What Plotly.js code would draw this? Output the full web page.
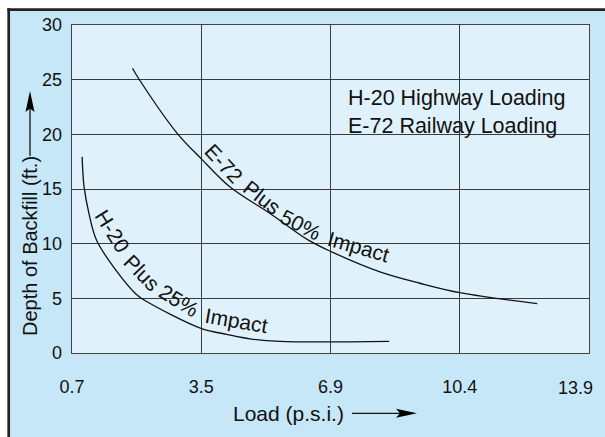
<!DOCTYPE html>
<html>
<head>
<meta charset="utf-8">
<script src="https://cdn.plot.ly/plotly-3.0.1.min.js"></script>
<style>html,body{margin:0;padding:0;background:#fff;}#chart{width:605px;height:437px;}</style>
</head>
<body>
<div id="chart"></div>
<script>
// ---- data ----
var loadTicks = [0.7, 3.5, 6.9, 10.4, 13.9];          // x tick labels (equally spaced on the chart)
var depthTicks = [0, 5, 10, 15, 20, 25, 30];

// H-20 Plus 25% Impact
var h20Load  = [0.92, 0.96, 1.07, 1.23, 1.65, 2.09, 2.28, 3.51, 4.17, 4.78, 5.57, 8.49];
var h20Depth = [17.94, 15.26, 12.70, 10.33, 7.57, 5.37, 4.80, 2.23, 1.71, 1.30, 1.07, 1.07];

// E-72 Plus 50% Impact
var e72Load  = [2.01, 2.15, 2.97, 3.51, 4.25, 5.31, 6.32, 6.93, 8.24, 9.32, 10.44, 12.5];
var e72Depth = [26.04, 25.06, 20.14, 17.73, 15.20, 12.76, 10.32, 9.25, 7.42, 6.38, 5.49, 4.52];

// ---- helpers ----
// load (p.s.i.) -> position on the equally spaced tick axis
function loadPos(v) {
  for (var i = 0; i < loadTicks.length - 1; i++) {
    if (v <= loadTicks[i + 1] || i === loadTicks.length - 2) {
      return i + (v - loadTicks[i]) / (loadTicks[i + 1] - loadTicks[i]);
    }
  }
}
var ML = 72, MR = 16, MT = 25, MB = 84, WW = 605, HH = 437;
var PW = WW - ML - MR, PH = HH - MT - MB;
function px(x) { return (x - ML) / PW; }
function py(y) { return (HH - MB - y) / PH; }

var FONT = 'Liberation Sans, Arial, Helvetica, sans-serif';
var INK = '#111111';

var traces = [
  { x: h20Load.map(loadPos), y: h20Depth, mode: 'lines', name: 'H-20 Plus 25% Impact',
    line: { color: '#111', width: 1.3, shape: 'spline', smoothing: 1 }, hoverinfo: 'skip' },
  { x: e72Load.map(loadPos), y: e72Depth, mode: 'lines', name: 'E-72 Plus 50% Impact',
    line: { color: '#111', width: 1.3, shape: 'spline', smoothing: 1 }, hoverinfo: 'skip' },
  // carrier for the second x axis (holds the last tick label only)
  { x: [null], y: [null], xaxis: 'x2', yaxis: 'y', mode: 'lines', hoverinfo: 'skip', showlegend: false }
];

function word(t, x, y, ang) {
  return { text: t, xref: 'paper', yref: 'paper', x: px(x), y: py(y), showarrow: false,
           textangle: ang, xanchor: 'center', yanchor: 'middle',
           font: { family: FONT, size: 21, color: INK } };
}

var annotations = [
  { text: 'H-20 Highway Loading<br>E-72 Railway Loading', xref: 'paper', yref: 'paper',
    x: px(346), y: py(112), xanchor: 'left', yanchor: 'middle', align: 'left', showarrow: false,
    font: { family: FONT, size: 21.5, color: INK } },
  { text: 'Load (p.s.i.)', xref: 'paper', yref: 'paper', x: px(231), y: py(413), xanchor: 'left',
    yanchor: 'middle', showarrow: false, font: { family: FONT, size: 21, color: INK } },
  { text: 'Depth of Backfill (ft.)', xref: 'paper', yref: 'paper', x: px(30), y: py(246), textangle: -90,
    xanchor: 'center', yanchor: 'middle', showarrow: false, font: { family: FONT, size: 20, color: INK } },
  word('H-20', 113, 231, 58),
  word('Plus', 142, 272, 46),
  word('25%', 179, 300.5, 32),
  word('Impact', 236.5, 320, 10),
  word('E-72', 224, 163, 47),
  word('Plus', 262.5, 197, 38),
  word('50%', 300.5, 224, 27),
  word('Impact', 358, 246.5, 16)
];

function pathPx(pts) {
  return 'M' + pts.map(function (p) { return px(p[0]) + ',' + py(p[1]); }).join('L') + 'Z';
}

var shapes = [
  { type: 'rect', xref: 'paper', yref: 'paper', x0: px(8.7), x1: px(640), y0: py(470), y1: py(9.6),
    fillcolor: '#c6e7f7', line: { width: 0 }, layer: 'below' },
  { type: 'line', xref: 'paper', yref: 'paper', x0: px(7.4), x1: px(640), y0: py(9.6), y1: py(9.6),
    line: { color: '#222', width: 2.7 }, layer: 'below' },
  { type: 'line', xref: 'paper', yref: 'paper', x0: px(8.7), x1: px(8.7), y0: py(8.3), y1: py(470),
    line: { color: '#222', width: 2.7 }, layer: 'below' },
  { type: 'rect', xref: 'paper', yref: 'paper', x0: 0, x1: 1, y0: 0, y1: 1,
    fillcolor: '#dff2fb', line: { width: 0 }, layer: 'below' },
  // x-title arrow
  { type: 'line', xref: 'paper', yref: 'paper', x0: px(352), x1: px(402), y0: py(413.3), y1: py(413.3),
    line: { color: '#111', width: 1.3 } },
  { type: 'path', xref: 'paper', yref: 'paper', path: pathPx([[417, 413.3], [396, 408.8], [400, 413.3], [396, 417.8]]),
    fillcolor: '#000', line: { width: 0 } },
  // y-title arrow
  { type: 'line', xref: 'paper', yref: 'paper', x0: px(30), x1: px(30), y0: py(156), y1: py(106),
    line: { color: '#111', width: 1.3 } },
  { type: 'path', xref: 'paper', yref: 'paper', path: pathPx([[30, 91], [25.5, 112], [30, 108.5], [34.5, 112]]),
    fillcolor: '#000', line: { width: 0 } }
];

var lastIdx = loadTicks.length - 1;
var tickFont = { family: FONT, size: 18, color: INK };

var layout = {
  width: WW, height: HH,
  margin: { l: ML, r: MR, t: MT, b: MB, pad: 0 },
  paper_bgcolor: '#ffffff',
  plot_bgcolor: 'rgba(0,0,0,0)',
  showlegend: false,
  font: { family: FONT, color: INK },
  xaxis: {
    range: [0, lastIdx],
    tickmode: 'array',
    tickvals: loadTicks.slice(0, lastIdx).map(function (v, i) { return i; }),
    ticktext: loadTicks.slice(0, lastIdx).map(function (v) { return v.toFixed(1); }),
    showgrid: true, gridcolor: '#3a3a3a', gridwidth: 1,
    zeroline: false, showline: true, mirror: true, linecolor: '#444', linewidth: 1.3,
    ticks: '', ticklabelstandoff: 17,
    tickfont: tickFont, fixedrange: true
  },
  // last tick label sits inside the frame, right-aligned to the edge as in the reference
  xaxis2: {
    overlaying: 'x', anchor: 'y', side: 'bottom',
    range: [0, lastIdx],
    tickmode: 'array', tickvals: [lastIdx], ticktext: [loadTicks[lastIdx].toFixed(1)],
    ticklabelposition: 'outside left', ticklabelshift: 4, ticklabeloverflow: 'allow',
    showgrid: false, zeroline: false, showline: false,
    ticks: '', ticklabelstandoff: 22,
    tickfont: tickFont, fixedrange: true
  },
  yaxis: {
    range: [0, 30],
    tickmode: 'array', tickvals: depthTicks, ticktext: depthTicks.map(String),
    showgrid: true, gridcolor: '#3a3a3a', gridwidth: 1,
    zeroline: false, showline: true, mirror: true, linecolor: '#444', linewidth: 1.3,
    ticks: '', ticklabelstandoff: 5,
    tickfont: tickFont, fixedrange: true
  },
  annotations: annotations,
  shapes: shapes
};

Plotly.newPlot('chart', traces, layout, { displayModeBar: false, staticPlot: true });
</script>
</body>
</html>
